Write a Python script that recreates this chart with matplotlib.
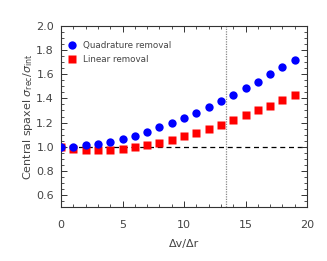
import matplotlib
matplotlib.use("Agg")
import matplotlib.pyplot as plt
from matplotlib.ticker import MultipleLocator

x = list(range(20))
quad = [1.00, 1.00, 1.01, 1.02, 1.04, 1.06, 1.09, 1.12, 1.16, 1.20,
        1.24, 1.28, 1.33, 1.38, 1.43, 1.49, 1.54, 1.60, 1.66, 1.72]
lin = [1.00, 0.98, 0.975, 0.97, 0.975, 0.98, 1.00, 1.01, 1.03, 1.055,
       1.085, 1.115, 1.15, 1.18, 1.22, 1.26, 1.30, 1.34, 1.385, 1.43]
vline_x = 13.45

plt.rcParams['font.family'] = ['DejaVu Sans']
fig = plt.figure(figsize=(3.27, 2.61), dpi=100)
ax = fig.add_axes([61/327, 1-207/261, (307-61)/327, (207-26)/261])

ax.axhline(1.0, color='black', ls=(0, (4, 3)), lw=0.9, zorder=1)
ax.axvline(vline_x, color='#888888', ls=(0, (1, 1)), lw=0.9, zorder=1)
ax.plot(x, lin, 's', color='#ff0000', ms=5.3, mec='none', label='Linear removal', zorder=2)
ax.plot(x, quad, 'o', color='#0000ff', ms=6, mec='none', label='Quadrature removal', zorder=3)

ax.set_xlim(0, 20)
ax.set_ylim(0.5, 2.0)
ax.xaxis.set_major_locator(MultipleLocator(5))
ax.xaxis.set_minor_locator(MultipleLocator(1))
ax.yaxis.set_minor_locator(MultipleLocator(0.05))
ax.set_yticks([0.6, 0.8, 1.0, 1.2, 1.4, 1.6, 1.8, 2.0])
ax.set_yticklabels(['0.6', '0.8', '1.0', '1.2', '1.4', '1.6', '1.8', '2.0'])
ax.tick_params(which='both', direction='in', top=True, right=True, labelsize=8, colors='#333333', labelcolor='#444444')
ax.tick_params(which='major', length=4, width=0.7)
ax.tick_params(axis='y', which='major', pad=5)
ax.tick_params(axis='x', which='major', pad=9)
ax.tick_params(which='minor', length=2, width=0.6)
for s in ax.spines.values():
    s.set_linewidth(0.8)
    s.set_color('#333333')

ax.set_xlabel('Δv/Δr', fontsize=8, color='#444444', labelpad=7)
ax.set_ylabel(r'Central spaxel $\sigma_{\rm rec}/\sigma_{\rm int}$', fontsize=8, color='#444444', labelpad=1)

h, l = ax.get_legend_handles_labels()
leg = ax.legend(h[::-1], l[::-1], loc='upper left', frameon=False, fontsize=6.3,
                handletextpad=0.6, borderaxespad=0.3, labelspacing=0.55,
                handlelength=1.2, bbox_to_anchor=(0.0, 0.95))
for t in leg.get_texts():
    t.set_color('#444444')

fig.savefig('out.png', dpi=100)
